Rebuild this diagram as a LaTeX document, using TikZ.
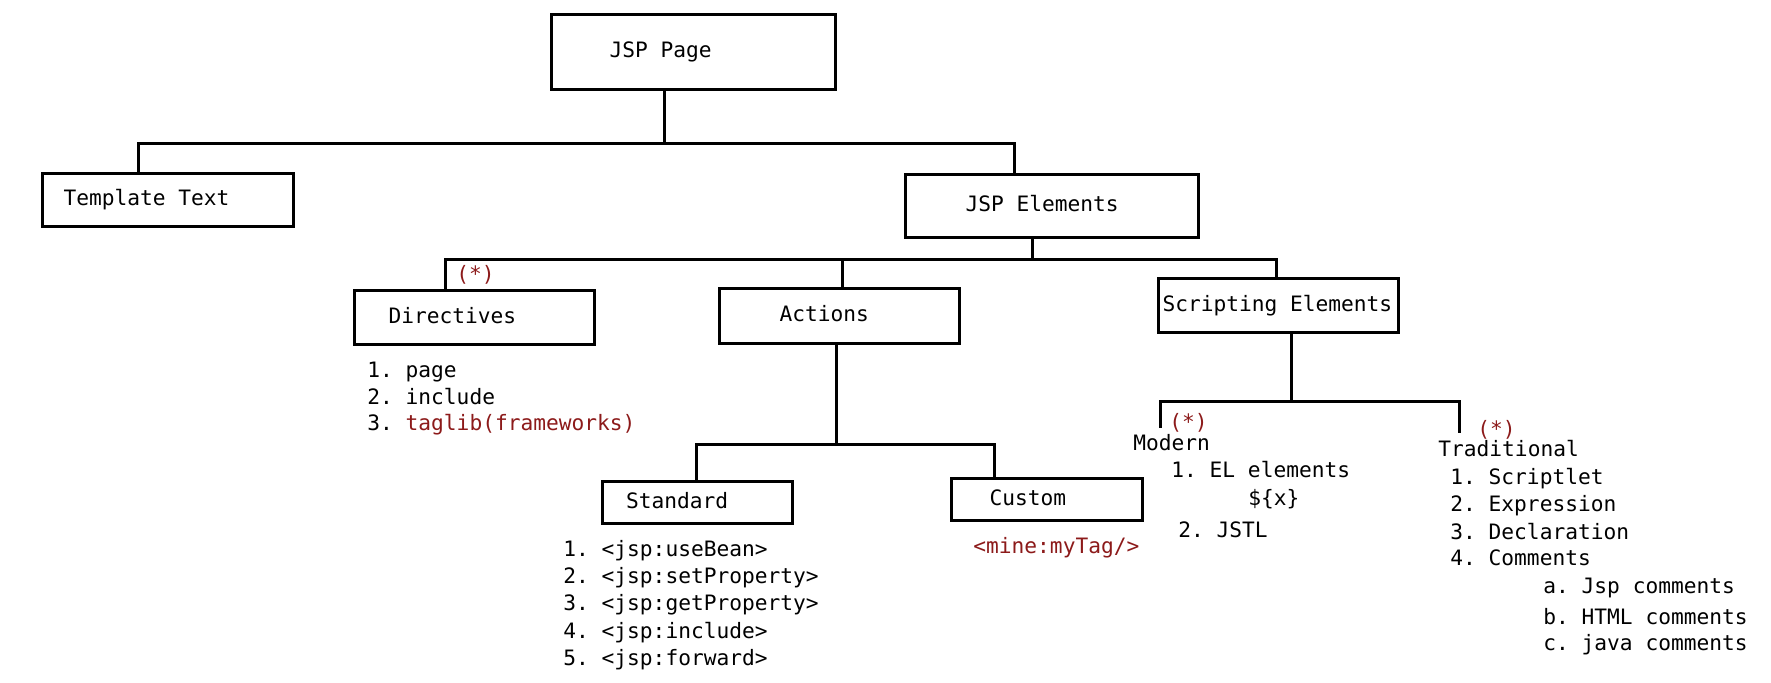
\documentclass[tikz,border=0pt]{standalone}
\usepackage{fontspec}
\setmonofont{DejaVu Sans Mono}
\definecolor{tagred}{RGB}{140,26,26}
\tikzset{
  box/.style={draw,line width=1.5pt,anchor=north west,
    text height=8pt,text depth=2pt},
  item/.style={anchor=base west,inner sep=0pt},
  note/.style={item,text=tagred},
  link/.style={line width=1.5pt}
}

\begin{document}
\begin{tikzpicture}[x=0.5pt,y=-0.5pt,font=\ttfamily\fontsize{10.6}{12}\selectfont]
      \useasboundingbox (0,0) rectangle (1771,683);
      % boxes
      \node [box,minimum height=37.5pt,inner xsep=29pt] (page) at (550,13) {\makebox[84pt][l]{JSP Page}};
      \node [box,minimum height=26.5pt,inner xsep=10.5pt] (template) at (41,172) {\makebox[104.5pt][l]{Template Text}};
      \node [box,minimum height=31.5pt,inner xsep=30pt] (elements) at (904,173) {\makebox[86.5pt][l]{JSP Elements}};
      \node [box,minimum height=27pt,inner xsep=17pt] (directives) at (353,289) {\makebox[86pt][l]{Directives}};
      \node [box,minimum height=27.5pt,inner xsep=30pt] (actions) at (718,287) {\makebox[60pt][l]{Actions}};
      \node [box,minimum height=27pt,inner xsep=2pt] (scripting) at (1157,277) {\makebox[116pt][l]{Scripting Elements}};
      \node [box,minimum height=21pt,inner xsep=11.75pt] (standard) at (601,480) {\makebox[71.5pt][l]{Standard}};
      \node [box,minimum height=21pt,inner xsep=19pt] (custom) at (950,477) {\makebox[57.5pt][l]{Custom}};
      \coordinate (modtip) at (1160,428);
      \coordinate (tradtip) at (1459,433);

      % connectors
      \draw [link] (page.south -| 664,0) -- ++(0,52.5);
      \draw [link] (template.north -| 138,0) -- ++(0,-28.5) -| (elements.north -| 1014,0);
      \draw [link] (elements.south -| 1032,0) -- ++(0,20.5);
      \draw [link] (directives.north -| 445,0) -- ++(0,-29.5) -| (scripting.north -| 1276,0);
      \draw [link] (actions.north -| 842,0) -- ++(0,-27.5);
      \draw [link] (actions.south -| 836,0) -- ++(0,99.5);
      \draw [link] (standard.north -| 696,0) -- ++(0,-35.5) -| (custom.north -| 994,0);
      \draw [link] (scripting.south -| 1291,0) -- ++(0,69.5);
      \draw [link] (modtip) -- ++(0,-26) -| (tradtip);

      % directives
      \node [note] (star1) at (456,282) {(*)};
      \node [item] (dir1) at (367,378) {1. page};
      \node [item] (dir2) at (367,405) {2. include};
      \node [item] (dir3) at (367,431) {3. \textcolor{tagred}{taglib(frameworks)}};

      % actions
      \node [item] (std1) at (563,556) {1. <jsp:useBean>};
      \node [item] (std2) at (563,583) {2. <jsp:setProperty>};
      \node [item] (std3) at (563,610) {3. <jsp:getProperty>};
      \node [item] (std4) at (563,638) {4. <jsp:include>};
      \node [item] (std5) at (563,665) {5. <jsp:forward>};
      \node [note] (tag) at (973,553) {<mine:myTag/>};

      % scripting elements
      \node [note] (star2) at (1169,430) {(*)};
      \node [item] (modern) at (1133,451) {Modern};
      \node [item] (mod1) at (1171,478) {1. EL elements};
      \node [item] (modx) at (1248,506) {\$\{x\}};
      \node [item] (mod2) at (1178,538) {2. JSTL};
      \node [note] (star3) at (1477,437) {(*)};
      \node [item] (trad) at (1438,457) {Traditional};
      \node [item] (trad1) at (1450,485) {1. Scriptlet};
      \node [item] (trad2) at (1450,512) {2. Expression};
      \node [item] (trad3) at (1450,539) {3. Declaration};
      \node [item] (trad4) at (1450,566) {4. Comments};
      \node [item] (com1) at (1543,593) {a. Jsp comments};
      \node [item] (com2) at (1543,624) {b. HTML comments};
      \node [item] (com3) at (1543,650) {c. java comments};
\end{tikzpicture}
\end{document}
